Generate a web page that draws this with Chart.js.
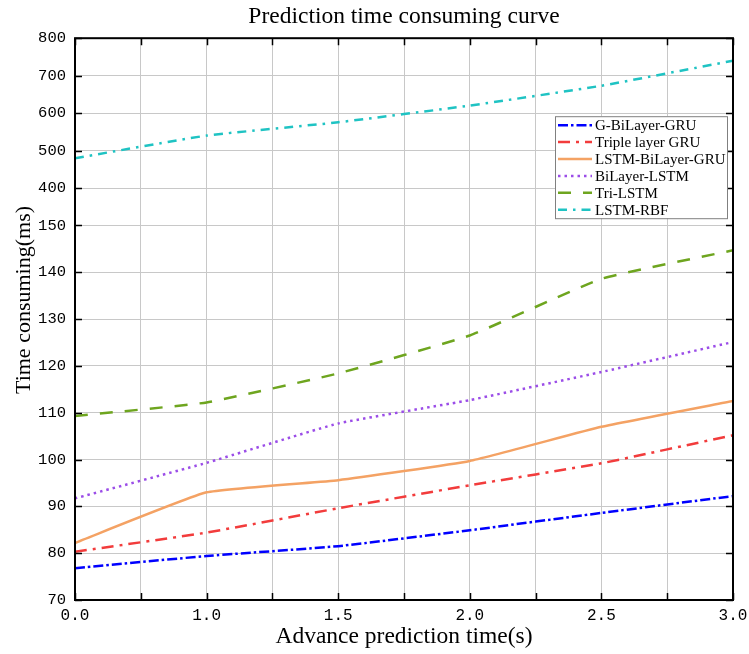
<!DOCTYPE html>
<html>
<head>
<meta charset="utf-8">
<script src="https://cdn.jsdelivr.net/npm/chart.js@4.4.0/dist/chart.umd.min.js"></script>
<style>
  html, body { margin: 0; padding: 0; background: #fff; }
  #wrap { width: 749px; height: 654px; }
</style>
</head>
<body>
<div id="wrap"><canvas id="chart1"></canvas></div>
<script>
var timeLabels = ['0.0', '1.0', '1.5', '2.0', '2.5', '3.0']
var gBiLayerGru = [76.8, 79.4, 81.5, 84.9, 88.6, 92.2]
var tripleLayerGru = [80.3, 84.4, 89.6, 94.5, 99.2, 105.2]
var lstmBiLayerGru = [82.2, 93.0, 95.6, 99.7, 107.0, 112.5]
var biLayerLstm = [91.7, 99.3, 107.7, 112.7, 118.7, 125.1]
var triLstm = [109.3, 112.2, 118.4, 126.5, 138.6, 144.7]
var lstmRbf = [479.5, 540, 575.5, 620, 673, 740]
var yTickValues = [70, 80, 90, 100, 110, 120, 130, 140, 150, 400, 500, 600, 700, 800]

// broken y axis: 70-150 by 10, then 150-400 and 400-800 squeezed
function toAxis(v) {
  if (v <= 150) return (v - 70) / 10
  if (v <= 400) return 8 + 0.8 * (v - 150) / 250
  return 8.8 + 0.8 * (v - 400) / 100
}

function series(label, values, color, dash, width) {
  return {
    label          : label,
    data           : values.map(function (v, i) { return { x: i, y: toAxis(v) } }),
    borderColor    : color,
    backgroundColor: color,
    borderDash     : dash,
    borderWidth    : width,
    pointRadius    : 0,
    tension        : 0.12,
    fill           : false
  }
}

var serif = 'Liberation Serif'

var framePlugin = {
  id: 'frame',
  afterDatasetsDraw: function (chart) {
    var ctx = chart.ctx
    var a = chart.chartArea
    var xs = chart.scales.x
    var ys = chart.scales.y
    ctx.save()
    ctx.setLineDash([])
    ctx.strokeStyle = '#000'
    ctx.lineWidth = 2
    ctx.strokeRect(a.left, a.top, a.right - a.left, a.bottom - a.top)
    ctx.lineWidth = 1.5
    ctx.beginPath()
    xs.ticks.forEach(function (t) {
      var px = Math.round(xs.getPixelForValue(t.value)) + 0.5
      ctx.moveTo(px, a.bottom); ctx.lineTo(px, a.bottom - 7)
      ctx.moveTo(px, a.top); ctx.lineTo(px, a.top + 7)
    })
    ys.ticks.forEach(function (t) {
      var py = Math.round(ys.getPixelForValue(t.value)) + 0.5
      ctx.moveTo(a.left, py); ctx.lineTo(a.left + 7, py)
      ctx.moveTo(a.right, py); ctx.lineTo(a.right - 7, py)
    })
    ctx.stroke()

    // y axis title, sits a bit above the middle like the original
    ctx.save()
    ctx.translate(24, 300)
    ctx.rotate(-Math.PI / 2)
    ctx.font = '22px "' + serif + '"'
    ctx.fillStyle = '#000'
    ctx.textAlign = 'center'
    ctx.textBaseline = 'middle'
    ctx.fillText('Time consuming(ms)', 0, 0)
    ctx.restore()

    // legend box inside the plot
    var bx = a.right - 178, by = a.top + 78, bw = 172, bh = 102
    ctx.fillStyle = '#fff'
    ctx.fillRect(bx, by, bw, bh)
    ctx.strokeStyle = '#808080'
    ctx.lineWidth = 1
    ctx.strokeRect(bx + 0.5, by + 0.5, bw, bh)
    ctx.font = '15px "' + serif + '"'
    ctx.textBaseline = 'middle'
    ctx.textAlign = 'left'
    chart.data.datasets.forEach(function (ds, i) {
      var ly = by + 9 + i * 16.9
      ctx.strokeStyle = ds.borderColor
      ctx.lineWidth = ds.borderWidth
      ctx.setLineDash(ds.borderDash || [])
      ctx.beginPath()
      ctx.moveTo(bx + 3, ly)
      ctx.lineTo(bx + 37, ly)
      ctx.stroke()
      ctx.setLineDash([])
      ctx.fillStyle = '#000'
      ctx.fillText(ds.label, bx + 40, ly + 1)
    })
    ctx.restore()
  }
}

var lineChartData = {
  datasets: [
    series('G-BiLayer-GRU', gBiLayerGru, '#0000ff', [10, 3, 2.5, 3], 2.5),
    series('Triple layer GRU', tripleLayerGru, '#f23c3c', [12, 6, 3, 6], 2.5),
    series('LSTM-BiLayer-GRU', lstmBiLayerGru, '#f4a264', [], 2.5),
    series('BiLayer-LSTM', biLayerLstm, '#9b4de8', [2.5, 4], 2.5),
    series('Tri-LSTM', triLstm, '#6ea51f', [13, 12], 2.5),
    series('LSTM-RBF', lstmRbf, '#1fc3c3', [9, 6, 2.5, 6], 2.5)
  ]
}

var lineChartOptions = {
  responsive         : true,
  maintainAspectRatio: false,
  animation          : false,
  layout: { padding: { left: 0, right: 16, top: 0, bottom: 0 } },
  plugins: {
    legend : { display: false },
    tooltip: { enabled: false },
    title  : {
      display : true,
      fullSize: false,
      text    : 'Prediction time consuming curve',
      color   : '#000',
      font    : { family: serif, size: 23.5, weight: 'normal' },
      padding : { top: 3, bottom: 7 }
    }
  },
  scales: {
    x: {
      type : 'linear',
      min  : 0,
      max  : 5,
      grid : { color: '#c8c8c8', lineWidth: 1, drawTicks: false },
      border: { display: false },
      ticks: {
        stepSize   : 0.5,
        autoSkip   : false,
        maxRotation: 0,
        padding    : 6,
        color      : '#000',
        font       : { family: 'Liberation Mono', size: 16 },
        callback   : function (v) { return Number.isInteger(v) ? timeLabels[v] : '' }
      },
      title: {
        display: true,
        text   : 'Advance prediction time(s)',
        color  : '#000',
        font   : { family: serif, size: 23.5 },
        padding: { top: 0, bottom: 3 }
      },
      afterFit: function (scale) {
        scale.height = 54
        scale.paddingRight = 0
        scale.paddingLeft = 0
      }
    },
    y: {
      type : 'linear',
      min  : 0,
      max  : 12,
      grid : { color: '#c8c8c8', lineWidth: 1, drawTicks: false },
      border: { display: false },
      afterBuildTicks: function (scale) {
        scale.ticks = yTickValues.map(function (v) { return { value: toAxis(v) } })
      },
      ticks: {
        padding : 9,
        color   : '#000',
        font    : { family: 'Liberation Mono', size: 15.5 },
        callback: function (v, i) { return String(yTickValues[i]) }
      },
      title: { display: false },
      afterFit: function (scale) { scale.width = 75 }
    }
  }
}

var lineChartCanvas = document.getElementById('chart1').getContext('2d')
var lineChart = new Chart(lineChartCanvas, {
  type   : 'line',
  data   : lineChartData,
  options: lineChartOptions,
  plugins: [framePlugin]
})
</script>
</body>
</html>
